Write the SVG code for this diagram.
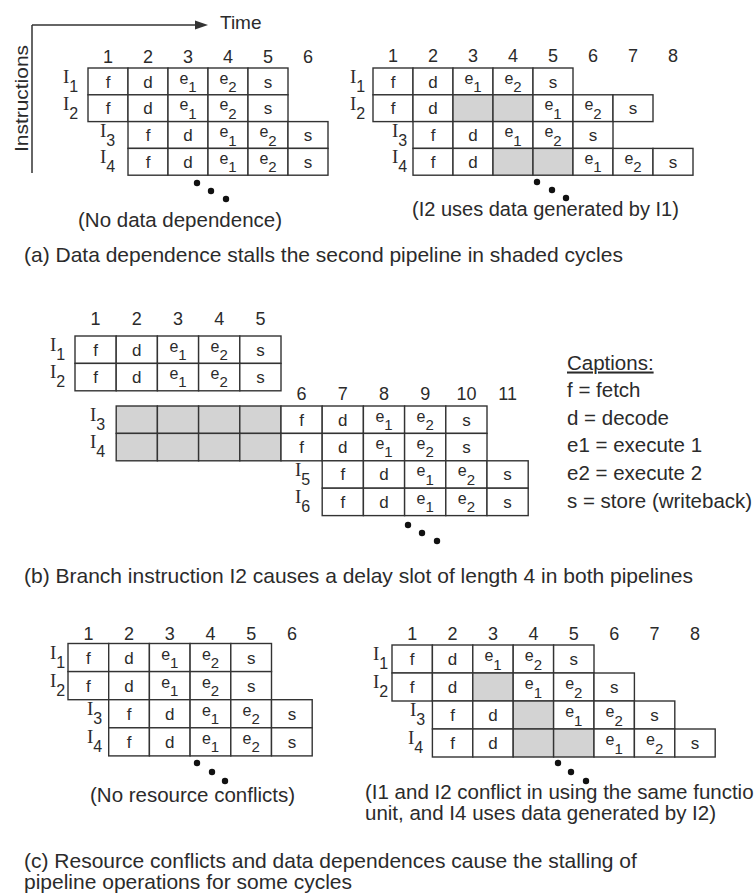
<svg xmlns="http://www.w3.org/2000/svg" width="755" height="895" viewBox="0 0 755 895">
<style>
.c{fill:#fff;stroke:#333;stroke-width:1.4}
.g{fill:#d3d3d3;stroke:#333;stroke-width:1.4}
.t{font-family:"Liberation Sans",Arial,sans-serif;fill:#2b2b2b}
.cl{font-size:17px;text-anchor:middle}
.e{font-size:16px;text-anchor:middle}
.sb{font-size:15px}
.n{font-size:18px;text-anchor:middle}
.lab{font-family:"Liberation Serif","Times New Roman",serif;font-size:19px;fill:#2b2b2b}
.ls{font-family:"Liberation Sans",Arial,sans-serif;font-size:16px}
.cap{font-size:21px}
.sc{font-size:20.5px}
.dot{fill:#111}
.ax{stroke:#333;stroke-width:1.5;fill:none}
</style>
<rect x="0" y="0" width="755" height="895" fill="#fff"/>

<g id="connectors">
<line class="ax" x1="32" y1="25" x2="32" y2="173"/>
<line class="ax" x1="32" y1="25" x2="197" y2="25"/>
<polygon points="195,20.5 208,25 195,29.5" fill="#333"/>
</g>
<g id="axis-labels">
<text class="t" x="220" y="29" font-size="19">Time</text>
<text class="t" transform="translate(28,152) rotate(-90)" font-size="19" textLength="107" lengthAdjust="spacingAndGlyphs">Instructions</text>
</g>

<!-- Panel (a) left -->
<g id="a-left">
<g class="t n"><text x="108" y="62.5">1</text><text x="148" y="62.5">2</text><text x="188" y="62.5">3</text><text x="228" y="62.5">4</text><text x="268" y="62.5">5</text><text x="308" y="62.5">6</text></g>
<text class="lab" x="63" y="83">I<tspan class="ls" dy="9">1</tspan></text>
<text class="lab" x="63" y="109.8">I<tspan class="ls" dy="9">2</tspan></text>
<text class="lab" x="100" y="136.6">I<tspan class="ls" dy="9">3</tspan></text>
<text class="lab" x="100" y="163.4">I<tspan class="ls" dy="9">4</tspan></text>
<g id="a-left-I1">
<rect class="c" x="88" y="68" width="40" height="26.8"/><rect class="c" x="128" y="68" width="40" height="26.8"/><rect class="c" x="168" y="68" width="40" height="26.8"/><rect class="c" x="208" y="68" width="40" height="26.8"/><rect class="c" x="248" y="68" width="40" height="26.8"/>
<text class="t cl" x="108" y="87.5">f</text><text class="t cl" x="148" y="87.5">d</text><text class="t e" x="188" y="83.5">e<tspan class="sb" dy="8.5">1</tspan></text><text class="t e" x="228" y="83.5">e<tspan class="sb" dy="8.5">2</tspan></text><text class="t cl" x="268" y="87.5">s</text>
</g>
<g id="a-left-I2">
<rect class="c" x="88" y="94.8" width="40" height="26.8"/><rect class="c" x="128" y="94.8" width="40" height="26.8"/><rect class="c" x="168" y="94.8" width="40" height="26.8"/><rect class="c" x="208" y="94.8" width="40" height="26.8"/><rect class="c" x="248" y="94.8" width="40" height="26.8"/>
<text class="t cl" x="108" y="114.3">f</text><text class="t cl" x="148" y="114.3">d</text><text class="t e" x="188" y="110.3">e<tspan class="sb" dy="8.5">1</tspan></text><text class="t e" x="228" y="110.3">e<tspan class="sb" dy="8.5">2</tspan></text><text class="t cl" x="268" y="114.3">s</text>
</g>
<g id="a-left-I3">
<rect class="c" x="128" y="121.6" width="40" height="26.8"/><rect class="c" x="168" y="121.6" width="40" height="26.8"/><rect class="c" x="208" y="121.6" width="40" height="26.8"/><rect class="c" x="248" y="121.6" width="40" height="26.8"/><rect class="c" x="288" y="121.6" width="40" height="26.8"/>
<text class="t cl" x="148" y="141.1">f</text><text class="t cl" x="188" y="141.1">d</text><text class="t e" x="228" y="137.1">e<tspan class="sb" dy="8.5">1</tspan></text><text class="t e" x="268" y="137.1">e<tspan class="sb" dy="8.5">2</tspan></text><text class="t cl" x="308" y="141.1">s</text>
</g>
<g id="a-left-I4">
<rect class="c" x="128" y="148.4" width="40" height="26.8"/><rect class="c" x="168" y="148.4" width="40" height="26.8"/><rect class="c" x="208" y="148.4" width="40" height="26.8"/><rect class="c" x="248" y="148.4" width="40" height="26.8"/><rect class="c" x="288" y="148.4" width="40" height="26.8"/>
<text class="t cl" x="148" y="167.9">f</text><text class="t cl" x="188" y="167.9">d</text><text class="t e" x="228" y="163.9">e<tspan class="sb" dy="8.5">1</tspan></text><text class="t e" x="268" y="163.9">e<tspan class="sb" dy="8.5">2</tspan></text><text class="t cl" x="308" y="167.9">s</text>
</g>
<circle class="dot" cx="197" cy="183" r="3.2"/><circle class="dot" cx="211" cy="191" r="3.2"/><circle class="dot" cx="226" cy="199" r="3.2"/>
<text class="t sc" x="78" y="227">(No data dependence)</text>
</g>

<!-- Panel (a) right -->
<g id="a-right">
<g class="t n"><text x="393" y="62">1</text><text x="433" y="62">2</text><text x="473" y="62">3</text><text x="513" y="62">4</text><text x="553" y="62">5</text><text x="593" y="62">6</text><text x="633" y="62">7</text><text x="673" y="62">8</text></g>
<text class="lab" x="350" y="83">I<tspan class="ls" dy="9">1</tspan></text>
<text class="lab" x="350" y="109.8">I<tspan class="ls" dy="9">2</tspan></text>
<text class="lab" x="392" y="136.6">I<tspan class="ls" dy="9">3</tspan></text>
<text class="lab" x="392" y="163.4">I<tspan class="ls" dy="9">4</tspan></text>
<g id="a-right-I1">
<rect class="c" x="373" y="68" width="40" height="26.8"/><rect class="c" x="413" y="68" width="40" height="26.8"/><rect class="c" x="453" y="68" width="40" height="26.8"/><rect class="c" x="493" y="68" width="40" height="26.8"/><rect class="c" x="533" y="68" width="40" height="26.8"/>
<text class="t cl" x="393" y="87.5">f</text><text class="t cl" x="433" y="87.5">d</text><text class="t e" x="473" y="83.5">e<tspan class="sb" dy="8.5">1</tspan></text><text class="t e" x="513" y="83.5">e<tspan class="sb" dy="8.5">2</tspan></text><text class="t cl" x="553" y="87.5">s</text>
</g>
<g id="a-right-I2">
<rect class="c" x="373" y="94.8" width="40" height="26.8"/><rect class="c" x="413" y="94.8" width="40" height="26.8"/><rect class="g" x="453" y="94.8" width="40" height="26.8"/><rect class="g" x="493" y="94.8" width="40" height="26.8"/><rect class="c" x="533" y="94.8" width="40" height="26.8"/><rect class="c" x="573" y="94.8" width="40" height="26.8"/><rect class="c" x="613" y="94.8" width="40" height="26.8"/>
<text class="t cl" x="393" y="114.3">f</text><text class="t cl" x="433" y="114.3">d</text><text class="t e" x="553" y="110.3">e<tspan class="sb" dy="8.5">1</tspan></text><text class="t e" x="593" y="110.3">e<tspan class="sb" dy="8.5">2</tspan></text><text class="t cl" x="633" y="114.3">s</text>
</g>
<g id="a-right-I3">
<rect class="c" x="413" y="121.6" width="40" height="26.8"/><rect class="c" x="453" y="121.6" width="40" height="26.8"/><rect class="c" x="493" y="121.6" width="40" height="26.8"/><rect class="c" x="533" y="121.6" width="40" height="26.8"/><rect class="c" x="573" y="121.6" width="40" height="26.8"/>
<text class="t cl" x="433" y="141.1">f</text><text class="t cl" x="473" y="141.1">d</text><text class="t e" x="513" y="137.1">e<tspan class="sb" dy="8.5">1</tspan></text><text class="t e" x="553" y="137.1">e<tspan class="sb" dy="8.5">2</tspan></text><text class="t cl" x="593" y="141.1">s</text>
</g>
<g id="a-right-I4">
<rect class="c" x="413" y="148.4" width="40" height="26.8"/><rect class="c" x="453" y="148.4" width="40" height="26.8"/><rect class="g" x="493" y="148.4" width="40" height="26.8"/><rect class="g" x="533" y="148.4" width="40" height="26.8"/><rect class="c" x="573" y="148.4" width="40" height="26.8"/><rect class="c" x="613" y="148.4" width="40" height="26.8"/><rect class="c" x="653" y="148.4" width="40" height="26.8"/>
<text class="t cl" x="433" y="167.9">f</text><text class="t cl" x="473" y="167.9">d</text><text class="t e" x="593" y="163.9">e<tspan class="sb" dy="8.5">1</tspan></text><text class="t e" x="633" y="163.9">e<tspan class="sb" dy="8.5">2</tspan></text><text class="t cl" x="673" y="167.9">s</text>
</g>
<circle class="dot" cx="537" cy="182" r="3.2"/><circle class="dot" cx="552" cy="190" r="3.2"/><circle class="dot" cx="566" cy="198" r="3.2"/>
<text class="t" x="412" y="216" font-size="20">(I2 uses data generated by I1)</text>
</g>
<text id="caption-a" class="t cap" x="24" y="262">(a) Data dependence stalls the second pipeline in shaded cycles</text>

<!-- Panel (b) -->
<g id="b">
<g class="t n"><text x="95.6" y="325">1</text><text x="136.8" y="325">2</text><text x="178" y="325">3</text><text x="219.2" y="325">4</text><text x="260.4" y="325">5</text>
<text x="301.6" y="400">6</text><text x="342.8" y="400">7</text><text x="384" y="400">8</text><text x="425.2" y="400">9</text><text x="466.4" y="400">10</text><text x="507.6" y="400">11</text></g>
<text class="lab" x="50" y="351">I<tspan class="ls" dy="9">1</tspan></text>
<text class="lab" x="50" y="378.4">I<tspan class="ls" dy="9">2</tspan></text>
<text class="lab" x="90" y="421">I<tspan class="ls" dy="9">3</tspan></text>
<text class="lab" x="90" y="448.4">I<tspan class="ls" dy="9">4</tspan></text>
<text class="lab" x="295" y="475.8">I<tspan class="ls" dy="9">5</tspan></text>
<text class="lab" x="295" y="503.2">I<tspan class="ls" dy="9">6</tspan></text>
<g id="b-I1">
<rect class="c" x="75" y="336" width="41.2" height="27.4"/><rect class="c" x="116.2" y="336" width="41.2" height="27.4"/><rect class="c" x="157.4" y="336" width="41.2" height="27.4"/><rect class="c" x="198.6" y="336" width="41.2" height="27.4"/><rect class="c" x="239.8" y="336" width="41.2" height="27.4"/>
<text class="t cl" x="95.6" y="355.5">f</text><text class="t cl" x="136.8" y="355.5">d</text><text class="t e" x="178" y="351.5">e<tspan class="sb" dy="8.5">1</tspan></text><text class="t e" x="219.2" y="351.5">e<tspan class="sb" dy="8.5">2</tspan></text><text class="t cl" x="260.4" y="355.5">s</text>
</g>
<g id="b-I2">
<rect class="c" x="75" y="363.4" width="41.2" height="27.4"/><rect class="c" x="116.2" y="363.4" width="41.2" height="27.4"/><rect class="c" x="157.4" y="363.4" width="41.2" height="27.4"/><rect class="c" x="198.6" y="363.4" width="41.2" height="27.4"/><rect class="c" x="239.8" y="363.4" width="41.2" height="27.4"/>
<text class="t cl" x="95.6" y="382.9">f</text><text class="t cl" x="136.8" y="382.9">d</text><text class="t e" x="178" y="378.9">e<tspan class="sb" dy="8.5">1</tspan></text><text class="t e" x="219.2" y="378.9">e<tspan class="sb" dy="8.5">2</tspan></text><text class="t cl" x="260.4" y="382.9">s</text>
</g>
<g id="b-I3">
<rect class="g" x="116.2" y="406" width="41.2" height="27.4"/><rect class="g" x="157.4" y="406" width="41.2" height="27.4"/><rect class="g" x="198.6" y="406" width="41.2" height="27.4"/><rect class="g" x="239.8" y="406" width="41.2" height="27.4"/>
<rect class="c" x="281" y="406" width="41.2" height="27.4"/><rect class="c" x="322.2" y="406" width="41.2" height="27.4"/><rect class="c" x="363.4" y="406" width="41.2" height="27.4"/><rect class="c" x="404.6" y="406" width="41.2" height="27.4"/><rect class="c" x="445.8" y="406" width="41.2" height="27.4"/>
<text class="t cl" x="301.6" y="425.5">f</text><text class="t cl" x="342.8" y="425.5">d</text><text class="t e" x="384" y="421.5">e<tspan class="sb" dy="8.5">1</tspan></text><text class="t e" x="425.2" y="421.5">e<tspan class="sb" dy="8.5">2</tspan></text><text class="t cl" x="466.4" y="425.5">s</text>
</g>
<g id="b-I4">
<rect class="g" x="116.2" y="433.4" width="41.2" height="27.4"/><rect class="g" x="157.4" y="433.4" width="41.2" height="27.4"/><rect class="g" x="198.6" y="433.4" width="41.2" height="27.4"/><rect class="g" x="239.8" y="433.4" width="41.2" height="27.4"/>
<rect class="c" x="281" y="433.4" width="41.2" height="27.4"/><rect class="c" x="322.2" y="433.4" width="41.2" height="27.4"/><rect class="c" x="363.4" y="433.4" width="41.2" height="27.4"/><rect class="c" x="404.6" y="433.4" width="41.2" height="27.4"/><rect class="c" x="445.8" y="433.4" width="41.2" height="27.4"/>
<text class="t cl" x="301.6" y="452.9">f</text><text class="t cl" x="342.8" y="452.9">d</text><text class="t e" x="384" y="448.9">e<tspan class="sb" dy="8.5">1</tspan></text><text class="t e" x="425.2" y="448.9">e<tspan class="sb" dy="8.5">2</tspan></text><text class="t cl" x="466.4" y="452.9">s</text>
</g>
<g id="b-I5">
<rect class="c" x="322.2" y="460.8" width="41.2" height="27.4"/><rect class="c" x="363.4" y="460.8" width="41.2" height="27.4"/><rect class="c" x="404.6" y="460.8" width="41.2" height="27.4"/><rect class="c" x="445.8" y="460.8" width="41.2" height="27.4"/><rect class="c" x="487" y="460.8" width="41.2" height="27.4"/>
<text class="t cl" x="342.8" y="480.3">f</text><text class="t cl" x="384" y="480.3">d</text><text class="t e" x="425.2" y="476.3">e<tspan class="sb" dy="8.5">1</tspan></text><text class="t e" x="466.4" y="476.3">e<tspan class="sb" dy="8.5">2</tspan></text><text class="t cl" x="507.6" y="480.3">s</text>
</g>
<g id="b-I6">
<rect class="c" x="322.2" y="488.2" width="41.2" height="27.4"/><rect class="c" x="363.4" y="488.2" width="41.2" height="27.4"/><rect class="c" x="404.6" y="488.2" width="41.2" height="27.4"/><rect class="c" x="445.8" y="488.2" width="41.2" height="27.4"/><rect class="c" x="487" y="488.2" width="41.2" height="27.4"/>
<text class="t cl" x="342.8" y="507.7">f</text><text class="t cl" x="384" y="507.7">d</text><text class="t e" x="425.2" y="503.7">e<tspan class="sb" dy="8.5">1</tspan></text><text class="t e" x="466.4" y="503.7">e<tspan class="sb" dy="8.5">2</tspan></text><text class="t cl" x="507.6" y="507.7">s</text>
</g>
<circle class="dot" cx="408" cy="525" r="3.2"/><circle class="dot" cx="422" cy="533" r="3.2"/><circle class="dot" cx="437" cy="541" r="3.2"/>
</g>
<g id="legend" class="t" font-size="20.5">
<text x="567" y="369.5" text-decoration="underline">Captions:</text>
<text x="567" y="397">f = fetch</text>
<text x="567" y="424.7">d = decode</text>
<text x="567" y="452.4">e1 = execute 1</text>
<text x="567" y="480">e2 = execute 2</text>
<text x="567" y="507.8">s = store (writeback)</text>
</g>
<text id="caption-b" class="t cap" x="24" y="583">(b) Branch instruction I2 causes a delay slot of length 4 in both pipelines</text>

<!-- Panel (c) left -->
<g id="c-left">
<g class="t n"><text x="88.4" y="640">1</text><text x="129.1" y="640">2</text><text x="169.8" y="640">3</text><text x="210.5" y="640">4</text><text x="251.2" y="640">5</text><text x="291.9" y="640">6</text></g>
<text class="lab" x="50" y="659">I<tspan class="ls" dy="9">1</tspan></text>
<text class="lab" x="50" y="687.1">I<tspan class="ls" dy="9">2</tspan></text>
<text class="lab" x="87" y="715.2">I<tspan class="ls" dy="9">3</tspan></text>
<text class="lab" x="87" y="743.3">I<tspan class="ls" dy="9">4</tspan></text>
<g id="c-left-I1">
<rect class="c" x="68" y="643.5" width="40.7" height="28.1"/><rect class="c" x="108.7" y="643.5" width="40.7" height="28.1"/><rect class="c" x="149.4" y="643.5" width="40.7" height="28.1"/><rect class="c" x="190.1" y="643.5" width="40.7" height="28.1"/><rect class="c" x="230.8" y="643.5" width="40.7" height="28.1"/>
<text class="t cl" x="88.4" y="663.5">f</text><text class="t cl" x="129.1" y="663.5">d</text><text class="t e" x="169.8" y="659.5">e<tspan class="sb" dy="8.5">1</tspan></text><text class="t e" x="210.5" y="659.5">e<tspan class="sb" dy="8.5">2</tspan></text><text class="t cl" x="251.2" y="663.5">s</text>
</g>
<g id="c-left-I2">
<rect class="c" x="68" y="671.6" width="40.7" height="28.1"/><rect class="c" x="108.7" y="671.6" width="40.7" height="28.1"/><rect class="c" x="149.4" y="671.6" width="40.7" height="28.1"/><rect class="c" x="190.1" y="671.6" width="40.7" height="28.1"/><rect class="c" x="230.8" y="671.6" width="40.7" height="28.1"/>
<text class="t cl" x="88.4" y="691.6">f</text><text class="t cl" x="129.1" y="691.6">d</text><text class="t e" x="169.8" y="687.6">e<tspan class="sb" dy="8.5">1</tspan></text><text class="t e" x="210.5" y="687.6">e<tspan class="sb" dy="8.5">2</tspan></text><text class="t cl" x="251.2" y="691.6">s</text>
</g>
<g id="c-left-I3">
<rect class="c" x="108.7" y="699.7" width="40.7" height="28.1"/><rect class="c" x="149.4" y="699.7" width="40.7" height="28.1"/><rect class="c" x="190.1" y="699.7" width="40.7" height="28.1"/><rect class="c" x="230.8" y="699.7" width="40.7" height="28.1"/><rect class="c" x="271.5" y="699.7" width="40.7" height="28.1"/>
<text class="t cl" x="129.1" y="719.7">f</text><text class="t cl" x="169.8" y="719.7">d</text><text class="t e" x="210.5" y="715.7">e<tspan class="sb" dy="8.5">1</tspan></text><text class="t e" x="251.2" y="715.7">e<tspan class="sb" dy="8.5">2</tspan></text><text class="t cl" x="291.9" y="719.7">s</text>
</g>
<g id="c-left-I4">
<rect class="c" x="108.7" y="727.8" width="40.7" height="28.1"/><rect class="c" x="149.4" y="727.8" width="40.7" height="28.1"/><rect class="c" x="190.1" y="727.8" width="40.7" height="28.1"/><rect class="c" x="230.8" y="727.8" width="40.7" height="28.1"/><rect class="c" x="271.5" y="727.8" width="40.7" height="28.1"/>
<text class="t cl" x="129.1" y="747.8">f</text><text class="t cl" x="169.8" y="747.8">d</text><text class="t e" x="210.5" y="743.8">e<tspan class="sb" dy="8.5">1</tspan></text><text class="t e" x="251.2" y="743.8">e<tspan class="sb" dy="8.5">2</tspan></text><text class="t cl" x="291.9" y="747.8">s</text>
</g>
<circle class="dot" cx="197" cy="763" r="3.2"/><circle class="dot" cx="212" cy="772" r="3.2"/><circle class="dot" cx="225" cy="781" r="3.2"/>
<text class="t sc" x="90" y="802">(No resource conflicts)</text>
</g>

<!-- Panel (c) right -->
<g id="c-right">
<g class="t n"><text x="412.2" y="640">1</text><text x="452.6" y="640">2</text><text x="493" y="640">3</text><text x="533.4" y="640">4</text><text x="573.8" y="640">5</text><text x="614.2" y="640">6</text><text x="654.6" y="640">7</text><text x="695" y="640">8</text></g>
<text class="lab" x="373" y="660">I<tspan class="ls" dy="9">1</tspan></text>
<text class="lab" x="373" y="688">I<tspan class="ls" dy="9">2</tspan></text>
<text class="lab" x="410" y="716">I<tspan class="ls" dy="9">3</tspan></text>
<text class="lab" x="408" y="744">I<tspan class="ls" dy="9">4</tspan></text>
<g id="c-right-I1">
<rect class="c" x="392" y="645" width="40.4" height="28"/><rect class="c" x="432.4" y="645" width="40.4" height="28"/><rect class="c" x="472.8" y="645" width="40.4" height="28"/><rect class="c" x="513.2" y="645" width="40.4" height="28"/><rect class="c" x="553.6" y="645" width="40.4" height="28"/>
<text class="t cl" x="412.2" y="665">f</text><text class="t cl" x="452.6" y="665">d</text><text class="t e" x="493" y="661">e<tspan class="sb" dy="8.5">1</tspan></text><text class="t e" x="533.4" y="661">e<tspan class="sb" dy="8.5">2</tspan></text><text class="t cl" x="573.8" y="665">s</text>
</g>
<g id="c-right-I2">
<rect class="c" x="392" y="673" width="40.4" height="28"/><rect class="c" x="432.4" y="673" width="40.4" height="28"/><rect class="g" x="472.8" y="673" width="40.4" height="28"/><rect class="c" x="513.2" y="673" width="40.4" height="28"/><rect class="c" x="553.6" y="673" width="40.4" height="28"/><rect class="c" x="594" y="673" width="40.4" height="28"/>
<text class="t cl" x="412.2" y="693">f</text><text class="t cl" x="452.6" y="693">d</text><text class="t e" x="533.4" y="689">e<tspan class="sb" dy="8.5">1</tspan></text><text class="t e" x="573.8" y="689">e<tspan class="sb" dy="8.5">2</tspan></text><text class="t cl" x="614.2" y="693">s</text>
</g>
<g id="c-right-I3">
<rect class="c" x="432.4" y="701" width="40.4" height="28"/><rect class="c" x="472.8" y="701" width="40.4" height="28"/><rect class="g" x="513.2" y="701" width="40.4" height="28"/><rect class="c" x="553.6" y="701" width="40.4" height="28"/><rect class="c" x="594" y="701" width="40.4" height="28"/><rect class="c" x="634.4" y="701" width="40.4" height="28"/>
<text class="t cl" x="452.6" y="721">f</text><text class="t cl" x="493" y="721">d</text><text class="t e" x="573.8" y="717">e<tspan class="sb" dy="8.5">1</tspan></text><text class="t e" x="614.2" y="717">e<tspan class="sb" dy="8.5">2</tspan></text><text class="t cl" x="654.6" y="721">s</text>
</g>
<g id="c-right-I4">
<rect class="c" x="432.4" y="729" width="40.4" height="28"/><rect class="c" x="472.8" y="729" width="40.4" height="28"/><rect class="g" x="513.2" y="729" width="40.4" height="28"/><rect class="g" x="553.6" y="729" width="40.4" height="28"/><rect class="c" x="594" y="729" width="40.4" height="28"/><rect class="c" x="634.4" y="729" width="40.4" height="28"/><rect class="c" x="674.8" y="729" width="40.4" height="28"/>
<text class="t cl" x="452.6" y="749">f</text><text class="t cl" x="493" y="749">d</text><text class="t e" x="614.2" y="745">e<tspan class="sb" dy="8.5">1</tspan></text><text class="t e" x="654.6" y="745">e<tspan class="sb" dy="8.5">2</tspan></text><text class="t cl" x="695" y="749">s</text>
</g>
<circle class="dot" cx="558" cy="763" r="3.2"/><circle class="dot" cx="571" cy="772" r="3.2"/><circle class="dot" cx="586" cy="781" r="3.2"/>
<text class="t sc" x="365" y="799">(I1 and I2 conflict in using the same functio</text>
<text class="t sc" x="365" y="820">unit, and I4 uses data generated by I2)</text>
</g>
<g id="caption-c" class="t cap">
<text x="24" y="868">(c) Resource conflicts and data dependences cause the stalling of</text>
<text x="24" y="889">pipeline operations for some cycles</text>
</g>
</svg>
